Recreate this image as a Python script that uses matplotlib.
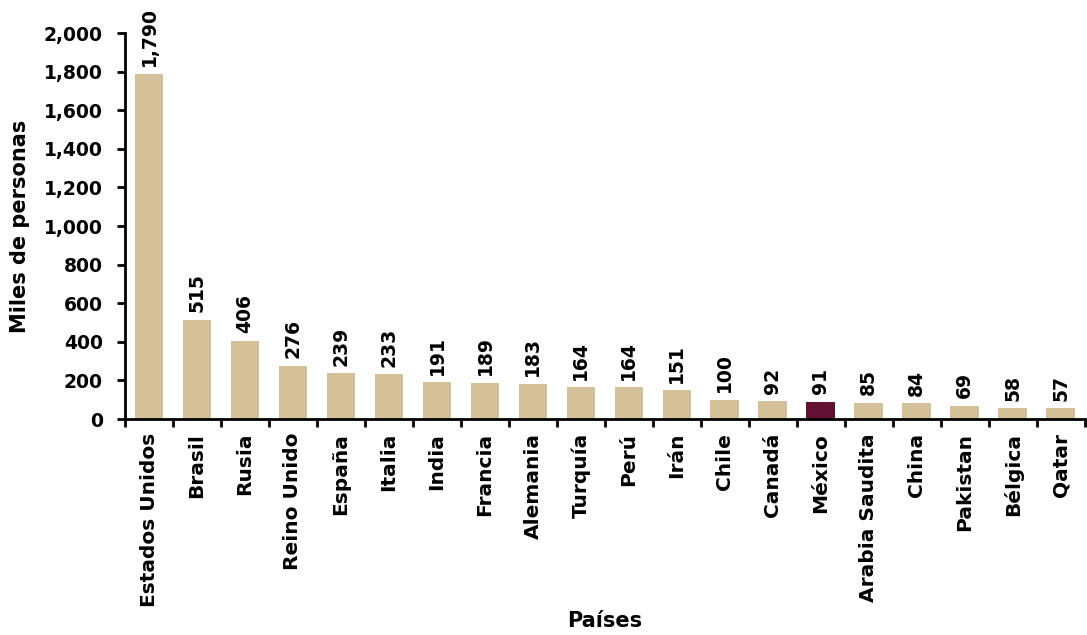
import matplotlib
matplotlib.use("Agg")
import matplotlib.pyplot as plt
import numpy as np

paises = ["Estados Unidos", "Brasil", "Rusia", "Reino Unido", "España", "Italia",
          "India", "Francia", "Alemania", "Turquía", "Perú", "Irán", "Chile",
          "Canadá", "México", "Arabia Saudita", "China", "Pakistan", "Bélgica", "Qatar"]
valores = [1790, 515, 406, 276, 239, 233, 191, 189, 183, 164, 164, 151, 100,
           92, 91, 85, 84, 69, 58, 57]
resaltado = "México"
yticks = [0, 200, 400, 600, 800, 1000, 1200, 1400, 1600, 1800, 2000]

plt.rcParams['font.family'] = ['DejaVu Sans']
plt.rcParams['font.weight'] = 'bold'

fig = plt.figure(figsize=(10.87, 6.35), dpi=100)
ax = fig.add_axes([0.115, 0.340, 0.883, 0.608])

x = np.arange(len(paises))
colors = ["#611232" if p == resaltado else "#D4C19A" for p in paises]
ax.bar(x, valores, width=0.6, color=colors, zorder=2)

for xi, v in zip(x, valores):
    ax.text(xi, v + 38, f"{v:,}", rotation=90, ha='center', va='bottom',
            fontsize=13.5, fontweight='bold')

ax.set_xlim(-0.5, len(paises) - 0.5)
ax.set_ylim(0, 2000)
ax.set_yticks(yticks)
ax.set_yticklabels([f"{t:,}" for t in yticks], fontsize=13.5, fontweight='bold')
ax.set_xticks(x)
ax.set_xticklabels(paises, rotation=90, fontsize=14.5, fontweight='bold')
ax.tick_params(axis='x', length=0, pad=10)
ax.set_xticks(np.arange(-0.5, len(paises), 1), minor=True)
ax.tick_params(axis='x', which='minor', length=6, width=2, direction='out')
ax.tick_params(axis='y', length=6, width=2, direction='out', pad=10)

for s in ['top', 'right']:
    ax.spines[s].set_visible(False)
for s in ['left', 'bottom']:
    ax.spines[s].set_linewidth(2)

ax.set_ylabel("Miles de personas", fontsize=15, fontweight='bold', labelpad=10)
ax.set_xlabel("Países", fontsize=15, fontweight='bold', labelpad=3)

fig.savefig("out.png", dpi=100)
